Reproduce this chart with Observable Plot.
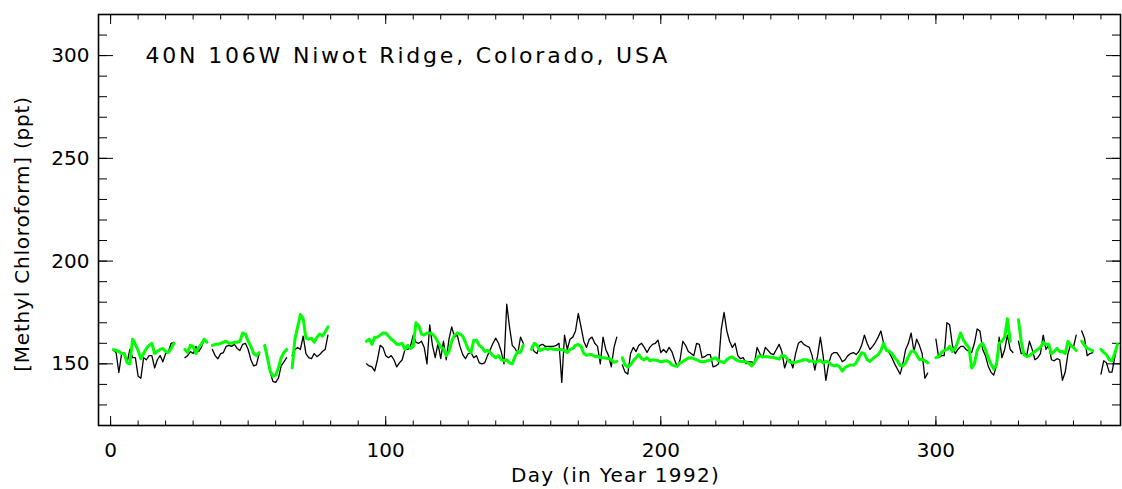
<!DOCTYPE html>
<html>
<head>
<meta charset="utf-8">
<script src="https://cdn.jsdelivr.net/npm/d3@7"></script>
<script src="https://cdn.jsdelivr.net/npm/@observablehq/plot@0.6"></script>
<style>
  html, body { margin: 0; padding: 0; background: #fff; }
  #chart svg { display: block; }
</style>
</head>
<body>
<div id="chart"></div>
<script>
// Daily methyl chloroform at Niwot Ridge, 1992 (ppt); null = no sample that day.
const firstDay = 1;

const observed = [
  156.6, 155.5, 145.8, 155, 155, 150.6, 157, 153, 153, 144,
  143, 153, 152, 154, 154, 148, 152, 154, 151, 155,
  156, 160, 160.5, null, null, null, 153, 154, 156, 155,
  158.5, 156, 158, 162, 161, null, 157, 154, 152.5, 155,
  155.5, 158.5, 159, 158.5, 159.5, 157.5, 156.5, 159.5, 160, 157,
  152, 149, 149.5, 155, null, 158, 153, 146, 141.5, 141,
  143, 149, 151, 153, null, 154, 157, 158, 157, 163.5,
  155, 153, 152.5, 155, 153.5, 154.5, 156, 157, 164, null,
  null, null, null, null, null, null, null, null, null, null,
  null, null, 150, 149, 148.5, 146.5, 152, 159, 158, 154,
  153, 154, 152, 148.5, 150.5, 152, 157, 157, 158.5, 164,
  160.5, 160, 161, 158, 150, 169, 159, 153, 160, 152.5,
  161, 152, 162, 168, 163, 164, 158.5, 154.5, 152.5, 155,
  155.5, 153, 154, 150.5, 150, 150.5, 154, 157, 160, 162.5,
  160, 156, 150, 179, 168, 159, 157.5, 155, 163, 160,
  null, null, 158.5, 156, 155, 159, 159.5, 158.5, 158.5, 158.5,
  158.5, 159, 160, 141, 164, 157, 162, 163, 166, 174.5,
  168, 161, 158, 162, 163, 160, 158.5, 150, 163, 157,
  154, 148.5, 158, 163, null, 149.5, 146, 145, 155, 158,
  156, 159, 160, 158, 155.5, 158, 159.5, 160, 161.5, 155.5,
  157, 155.5, 158, 156, 152, 148.5, 152, 161, 159, 156,
  155, 154, 160, 159.5, 153, 153.5, 154.5, 154.5, 148.5, 149,
  150, 167, 175, 166, 161, 158, 160, 154, 152.5, 153,
  150, 151, 151, 150, 158, 155, 153, 158, 156.5, 155,
  154.5, 157, 159.5, 156, 148, 152, 152, 148, 155, 160,
  161, 159.5, 158.7, 158, 154, 147, 154, 163, 154, 142,
  150, 154.5, 155.5, 155.5, 153.5, 151, 152, 154, 155, 155.5,
  154.5, 156, 159, 164, 160, 157, 158.5, 160.5, 163, 166,
  160, 156.5, 155.5, 153, 150, 147.5, 145, 150, 157, 160,
  165, 156, 162, 159, 155, 143, 145.5, null, null, 162,
  153, 154, 154, 170, 169, 159, 155, 157, 158.5, 158.5,
  157, 156, 155.5, 160, 167, 166, 157, 154, 149, 146,
  144.5, 149, 163, 153, 157, 164, 157, 155.5, null, 161,
  155, 155.5, 154, 161, 157, 152, 153, 155, 164, 157,
  159, 152, 151.5, 152.5, 152, 142, 146, 155, 159.5, 158,
  164, null, 166, 162.5, 154, 155, 155.5, null, null, 145,
  151.5, 150.5, 146, 146, 153, 159.5
];

const modelled = [
  157, 156.5, 156, 155, 155, 150.5, 150, 162, 159.5, 156.5,
  152.5, 155, 157.5, 159, 160, 155, 156, 157, 157.5, 156,
  155.5, 157.5, 160, null, null, null, 157, 155.5, 159, 158.5,
  155, 158, 159.5, 162, 160.5, null, 159, 159.5, 159.5, 160,
  160.5, 161, 160, 160, 160.5, 160.5, 161, 165, 164.5, 161,
  158.5, 155, 154, 155.5, null, 159, 153, 146.5, 144, 144.5,
  148, 153, 155.5, 157, null, 148, 162, 168, 174, 172,
  162.5, 162, 162.5, 160.5, 163, 164.5, 163.5, 165.5, 168, null,
  null, null, null, null, null, null, null, null, null, null,
  null, null, 161, 162, 159.5, 163, 163, 164, 165, 165,
  163.5, 162, 161, 159.5, 159.5, 160, 157, 159, 157.5, 158.5,
  170, 168.5, 164.5, 164, 165, 165, 164.5, 163, 160.5, 158,
  157.5, 154, 156, 161, 164, 165, 164.5, 163.5, 160.5, 157,
  155.5, 161.5, 161.5, 159, 158, 156, 156.5, 155.5, 154, 153,
  154, 152, 151.5, 152, 150.5, 150, 153.5, 156, 155.5, 159,
  null, null, 157, 160, 159, 156.5, 157, 157.5, 157, 157.5,
  157, 157, 157, 157, 156.5, 155.5, 157, 157.5, 159, 159.5,
  158.5, 155, 154.2, 154.5, 154.5, 153.5, 153.8, 153, 153, 152.8,
  152.5, 152.2, 150.8, 151.2, null, 153, 149.5, 148.5, 149.5, 151.5,
  153, 154.5, 152.5, 152, 153, 151.5, 152, 151.8, 151.5, 151,
  151.3, 151.5, 151, 149.5, 149, 149, 150.5, 151, 152, 152.8,
  153, 152.5, 152, 151.3, 151, 151.1, 151.5, 151.8, 152.5, 153,
  151.5, 151, 150.6, 152, 153, 153.4, 152.3, 151.5, 151.1, 151.1,
  151, 150.2, 149, 150.5, 153, 153.9, 153.5, 153.4, 153.4, 153.2,
  153.1, 152.7, 152.3, 154, 154, 152.3, 150.8, 150.6, 150.8, 151.2,
  151.5, 152, 152, 151.2, 151.5, 150.8, 151.2, 151.7, 150.4, 151.3,
  150.8, 149.5, 149, 149.5, 148.5, 146.5, 148.2, 149, 149.5, 149.3,
  150.5, 153, 155.4, 155, 152, 151.2, 152.5, 153.5, 154.5, 156.5,
  160, 156.5, 156.3, 155, 153, 151.5, 149.2, 149, 150.5, 153.5,
  156, 156.3, 154.5, 152, 152.2, 151.5, 150.5, null, null, 153,
  153.5, 155.5, 156.5, 157, 158.5, 156, 157.5, 161, 165, 161.5,
  159.5, 158, 148, 150, 156.5, 159, 160, 157, 153, 150,
  147.5, 149.5, 160, 161, 163, 172, 161, null, null, 171.5,
  161, 154.5, 153.5, 154, 155, 156, 157, 158, 160.5, 159.5,
  159.5, 155, 156, 157.5, 156, 156, 155, 161, 159, 158,
  156.5, null, 161, 159, 157.5, 157, 156.3, null, null, 157,
  155.5, 154.5, 152, 151.5, 155, 159.5
];

// Axis ticks and annotation text
const xMajorTicks = [0, 100, 200, 300];
const xMinorTicks = d3.range(0, 361, 10);
const yMajorTicks = [150, 200, 250, 300];
const yMinorTicks = d3.range(120, 321, 10);
const siteLabel = "40N 106W Niwot Ridge, Colorado, USA";
const xTitle = "Day (in Year 1992)";
const yTitle = "[Methyl Chloroform] (ppt)";

const rows = observed.map((v, i) => ({
  day: firstDay + i,
  obs: v ?? NaN,
  model: modelled[i] ?? NaN
}));

const font = "DejaVu Sans";
const blank = () => "";

const chart = Plot.plot({
  width: 1122,
  height: 489,
  marginLeft: 98,
  marginRight: 2,
  marginTop: 14,
  marginBottom: 64,
  style: { fontFamily: font, fontSize: "20px", color: "#000", background: "#fff" },
  x: { domain: [-4.4, 367.1] },
  y: { domain: [120, 320] },
  marks: [
    // inward-pointing ticks on all four sides
    Plot.axisX({ anchor: "bottom", ticks: xMinorTicks, tickSize: -4.5, tickFormat: blank, label: null }),
    Plot.axisX({ anchor: "top", ticks: xMinorTicks, tickSize: -4.5, tickFormat: blank, label: null }),
    Plot.axisX({ anchor: "top", ticks: xMajorTicks, tickSize: -9, tickFormat: blank, label: null }),
    Plot.axisX({ anchor: "bottom", ticks: xMajorTicks, tickSize: -9, tickPadding: 26,
                 fontSize: 20, label: null }),
    Plot.axisY({ anchor: "left", ticks: yMinorTicks, tickSize: -9, tickFormat: blank, label: null }),
    Plot.axisY({ anchor: "right", ticks: yMinorTicks, tickSize: -9, tickFormat: blank, label: null }),
    Plot.axisY({ anchor: "right", ticks: yMajorTicks, tickSize: -15, tickFormat: blank, label: null }),
    Plot.axisY({ anchor: "left", ticks: yMajorTicks, tickSize: -15, tickPadding: 24,
                 fontSize: 20, label: null }),
    Plot.frame({ stroke: "#000", strokeWidth: 1.6 }),
    // observations and model
    Plot.line(rows, { x: "day", y: "obs", stroke: "#000", strokeWidth: 1.3 }),
    Plot.line(rows, { x: "day", y: "model", stroke: "#00ff00", strokeWidth: 3 }),
    // annotation and axis titles
    Plot.text([siteLabel], { frameAnchor: "top-left", dx: 47, dy: 41, textAnchor: "start",
                             lineAnchor: "middle", fontSize: 22, fill: "#000" }),
    Plot.text([xTitle], { frameAnchor: "bottom", dx: 6, dy: 50, textAnchor: "middle",
                          lineAnchor: "middle", fontSize: 20, fill: "#000" }),
    Plot.text([yTitle], { frameAnchor: "left", dx: -76, dy: 14, rotate: -90, textAnchor: "middle",
                          lineAnchor: "middle", fontSize: 20, fill: "#000" })
  ]
});

// wider letter spacing for the annotation and axis titles
const spacing = new Map([[siteLabel, "2.8px"], [xTitle, "1.3px"], [yTitle, "0.8px"]]);
chart.querySelectorAll("text").forEach(t => {
  const s = spacing.get(t.textContent);
  if (s) t.setAttribute("letter-spacing", s);
});

document.getElementById("chart").appendChild(chart);
</script>
</body>
</html>
